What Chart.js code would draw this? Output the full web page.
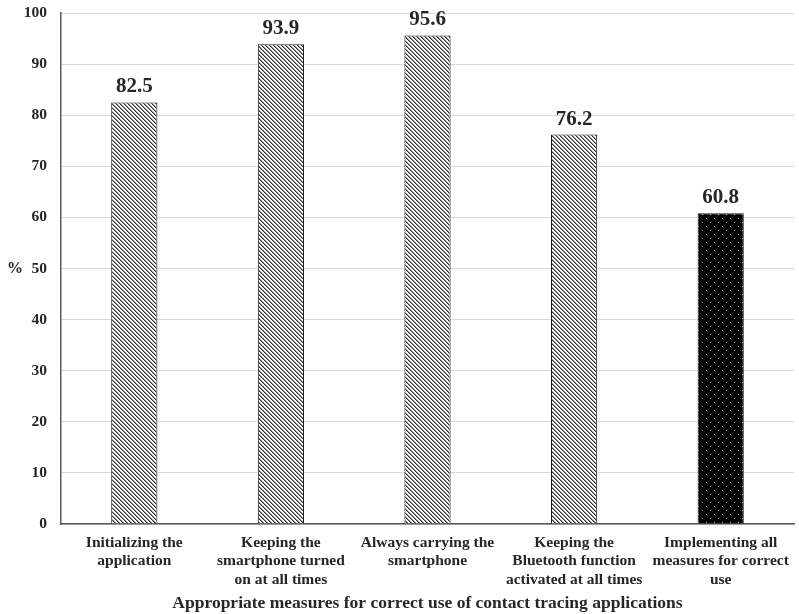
<!DOCTYPE html>
<html>
<head>
<meta charset="utf-8">
<script src="https://cdn.jsdelivr.net/npm/chart.js@4"></script>
<style>
  html, body { margin: 0; padding: 0; background: #fff; }
  #wrap { width: 799px; height: 614px; }
</style>
</head>
<body>
<div id="wrap"><canvas id="chart"></canvas></div>
<script>
// --- data ---
const categories = [
    ["Initializing the", "application"],
    ["Keeping the", "smartphone turned", "on at all times"],
    ["Always carrying the", "smartphone"],
    ["Keeping the", "Bluetooth function", "activated at all times"],
    ["Implementing all", "measures for correct", "use"]
];
const percentValues = [82.5, 93.9, 95.6, 76.2, 60.8];
const yTicks = [0, 10, 20, 30, 40, 50, 60, 70, 80, 90, 100];
const xTitle = "Appropriate measures for correct use of contact tracing applications";
const yTitle = "%";

const FONT = "'Liberation Serif', 'Times New Roman', serif";

// --- fill patterns ---
function makeHatch() {
    const c = document.createElement('canvas');
    c.width = 4; c.height = 4;
    const g = c.getContext('2d');
    g.fillStyle = '#ffffff';
    g.fillRect(0, 0, 4, 4);
    for (let y = 0; y < 4; y++) {
        for (let x = 0; x < 4; x++) {
            const d = ((x - y) % 4 + 4) % 4;
            if (d === 0) { g.fillStyle = '#303030'; g.fillRect(x, y, 1, 1); }
            if (d === 1) { g.fillStyle = '#8a8a8a'; g.fillRect(x, y, 1, 1); }
        }
    }
    return g.createPattern(c, 'repeat');
}

function makeDots() {
    const c = document.createElement('canvas');
    c.width = 8; c.height = 8;
    const g = c.getContext('2d');
    g.fillStyle = '#000000';
    g.fillRect(0, 0, 8, 8);
    g.fillStyle = '#b0b0b0';
    g.fillRect(2, 2, 1, 1);
    g.fillRect(6, 6, 1, 1);
    return g.createPattern(c, 'repeat');
}

const hatch = makeHatch();
const dots = makeDots();
const barFills = percentValues.map((v, i) => i === percentValues.length - 1 ? dots : hatch);

// value labels above each bar
const valueLabels = {
    id: 'valueLabels',
    afterDatasetsDraw(chart) {
        const ctx = chart.ctx;
        const meta = chart.getDatasetMeta(0);
        ctx.save();
        ctx.font = "bold 21px " + FONT;
        ctx.fillStyle = '#262626';
        ctx.textAlign = 'center';
        ctx.textBaseline = 'alphabetic';
        meta.data.forEach((bar, i) => {
            ctx.fillText(percentValues[i].toFixed(1), bar.x, bar.y - 10);
        });
        ctx.restore();
    }
};

// horizontal "%" title on the left
const yTitlePlugin = {
    id: 'yTitle',
    afterDraw(chart) {
        const ctx = chart.ctx;
        const area = chart.chartArea;
        ctx.save();
        ctx.font = "bold 16px " + FONT;
        ctx.fillStyle = '#262626';
        ctx.textAlign = 'center';
        ctx.textBaseline = 'middle';
        ctx.fillText(yTitle, 15, (area.top + area.bottom) / 2);
        ctx.restore();
    }
};

new Chart(document.getElementById('chart'), {
    type: 'bar',
    data: {
        labels: categories,
        datasets: [{
            data: percentValues,
            backgroundColor: barFills,
            borderColor: '#1a1a1a',
            borderWidth: 1,
            barPercentage: 0.315,
            categoryPercentage: 1
        }]
    },
    options: {
        responsive: true,
        maintainAspectRatio: false,
        animation: false,
        layout: { padding: { top: 13, right: 5, bottom: 0, left: 0 } },
        plugins: {
            legend: { display: false },
            tooltip: { enabled: false }
        },
        scales: {
            x: {
                grid: { display: false, drawTicks: false },
                border: { color: '#595959', width: 1.5 },
                ticks: {
                    autoSkip: false,
                    maxRotation: 0,
                    minRotation: 0,
                    padding: 10,
                    color: '#262626',
                    font: { family: FONT, size: 15.5, weight: 'bold', lineHeight: 1.18 }
                },
                title: {
                    display: true,
                    text: xTitle,
                    color: '#262626',
                    font: { family: FONT, size: 17.5, weight: 'bold' },
                    padding: { top: 2, bottom: 0 }
                },
                afterFit(scale) {
                    scale.height = 90;
                    scale.paddingLeft = 0;
                    scale.paddingRight = 0;
                }
            },
            y: {
                min: 0,
                max: 100,
                afterBuildTicks(scale) { scale.ticks = yTicks.map(v => ({ value: v })); },
                grid: { color: '#d9d9d9', drawTicks: false },
                border: { color: '#595959', width: 1.5 },
                ticks: {
                    padding: 14,
                    color: '#262626',
                    font: { family: FONT, size: 15.5, weight: 'bold' }
                },
                afterFit(scale) {
                    scale.width = 61;
                    scale.paddingTop = 0;
                    scale.paddingBottom = 0;
                }
            }
        }
    },
    plugins: [valueLabels, yTitlePlugin]
});
</script>
</body>
</html>
